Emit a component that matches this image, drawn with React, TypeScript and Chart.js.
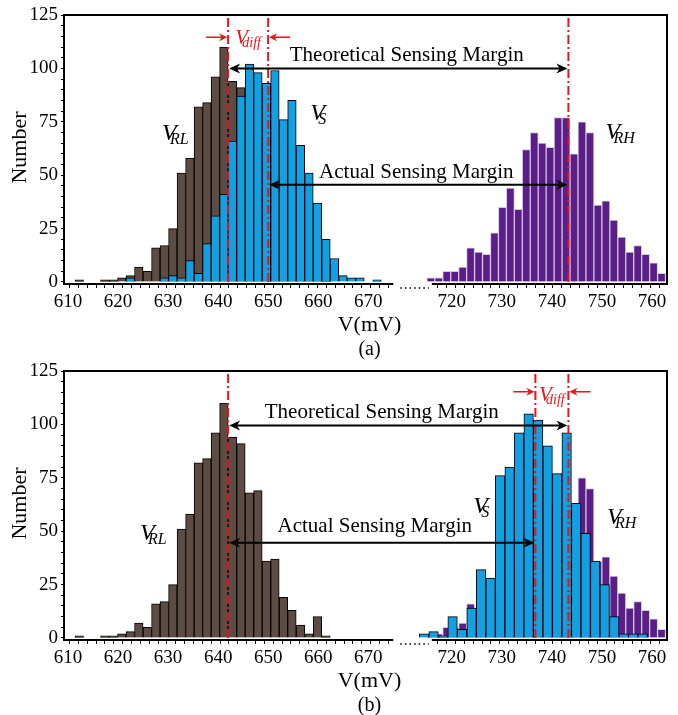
import React, { useEffect, useRef } from 'react';
import { Chart, registerables } from 'chart.js';
Chart.register(...registerables);

const FONT = '"Liberation Serif", "Times New Roman", serif';

// ---- axis break (real mV values above the gap are shifted left by SHIFT axis units)
const SHIFT = 33.3;
const X_MIN = 609.2;
const X_MAX = 763.0;
const BREAK_FROM = 675.0;
const BREAK_TO = 716.0;

const xTickLabels = [610, 620, 630, 640, 650, 660, 670, 720, 730, 740, 750, 760];
const yTickLabels = [0, 25, 50, 75, 100, 125];
const Y_MAX = 125;

// ---- V_RL histogram (same in both panels)
const vrlBins = [612.25, 613.95, 615.65, 617.35, 619.05, 620.75, 622.45, 624.15, 625.85, 627.55,
  629.25, 630.95, 632.65, 634.35, 636.05, 637.75, 639.45, 641.15, 642.85, 644.55,
  646.25, 647.95, 649.65, 651.35, 653.05, 654.75, 656.45, 658.15, 659.85, 661.55];
const vrlCounts = [1, 0, 0, 1, 1, 2, 3, 7, 5, 16, 17, 25, 51, 58, 82, 84, 96, 110, 94, 91,
  68, 69, 36, 37, 19, 13, 6, 2, 10, 1];

// ---- V_S histogram, panel (a)
const vsBinsA = [622.45, 624.15, 625.85, 627.55, 629.25, 630.95, 632.65, 634.35, 636.05, 637.75,
  639.45, 641.15, 642.85, 644.55, 646.25, 647.95, 649.65, 651.35, 653.05, 654.75,
  656.45, 658.15, 659.85, 661.55, 663.25, 664.95, 666.65, 668.35, 670.05, 671.75];
const vsCountsA = [2, 0, 0, 0, 2, 3, 2, 10, 4, 18, 31, 41, 66, 87, 102, 98, 93, 99, 76, 85,
  64, 51, 37, 20, 11, 3, 2, 2, 0, 1];

// ---- V_RH histogram (same in both panels)
const vrhBins = [715.80, 717.39, 718.98, 720.57, 722.16, 723.75, 725.34, 726.93, 728.52, 730.11,
  731.70, 733.29, 734.88, 736.47, 738.06, 739.65, 741.24, 742.83, 744.42, 746.01,
  747.60, 749.19, 750.78, 752.37, 753.96, 755.55, 757.14, 758.73, 760.32, 761.91];
const vrhCounts = [2, 2, 5, 5, 7, 16, 14, 13, 23, 35, 44, 34, 62, 70, 65, 63, 77, 77, 60, 75,
  70, 36, 38, 29, 21, 14, 17, 13, 9, 4];

// ---- V_S histogram, panel (b)
const vsBinsB = [714.45, 716.35, 718.25, 720.15, 722.05, 723.95, 725.85, 727.75, 729.65, 731.55,
  733.45, 735.35, 737.25, 739.15, 741.05, 742.95, 744.85, 746.75, 748.65, 750.55,
  752.45, 754.35, 756.25, 758.15];
const vsCountsB = [2, 3, 1, 10, 4, 14, 32, 28, 76, 80, 96, 105, 102, 90, 77, 96, 63, 49, 36, 25,
  10, 2, 2, 2];

// ---- reference voltages (mV)
const meanRL = 642.0;
const meanSA = 650.0;
const meanSB = 736.7;
const meanRH = 743.3;

const BROWN = '#5d4c43';
const BLUE = '#12a0e2';
const PURPLE = '#5a1d8a';
const RED = '#e8141c';

const toAxis = (v: number) => (v > 690 ? v - SHIFT : v);

function barSet(label: string, bins: number[], counts: number[], color: string, border: string, thick: number) {
  return {
    type: 'bar' as const,
    label,
    data: bins.map((b, i) => ({ x: toAxis(b), y: counts[i] })),
    backgroundColor: color,
    borderColor: border,
    borderWidth: 1,
    barThickness: thick,
    grouped: false,
  };
}

type SubLabel = { sub: string; v: number; c: number };
type Panel = {
  vsBins: number[];
  vsCounts: number[];
  redLines: number[];
  vdiff: { left: number; right: number; arrowC: number; textC: number };
  arrows: { from: number; to: number; c: number }[];
  texts: { t: string; u: number; c: number }[];
  labels: SubLabel[];
  caption: string;
  height: number;
};

const panelA: Panel = {
  vsBins: vsBinsA,
  vsCounts: vsCountsA,
  redLines: [meanRL, meanSA, meanRH],
  vdiff: { left: meanRL, right: meanSA, arrowC: 114.6, textC: 111.5 },
  arrows: [
    { from: meanRL, to: meanRH, c: 100 },
    { from: meanSA, to: meanRH, c: 45.5 },
  ],
  texts: [
    { t: 'Theoretical Sensing Margin', u: 677.7, c: 103.5 },
    { t: 'Actual Sensing Margin', u: 679.6, c: 48.8 },
  ],
  labels: [
    { sub: 'RL', v: 628.8, c: 66.5 },
    { sub: 'S', v: 658.4, c: 75.8 },
    { sub: 'RH', v: 750.7, c: 66.8 },
  ],
  caption: '(a)',
  height: 362,
};

const panelB: Panel = {
  vsBins: vsBinsB,
  vsCounts: vsCountsB,
  redLines: [meanRL, meanSB, meanRH],
  vdiff: { left: meanSB, right: meanRH, arrowC: 115.3, textC: 111 },
  arrows: [
    { from: meanRL, to: meanRH, c: 99.5 },
    { from: meanRL, to: meanSB, c: 44.6 },
  ],
  texts: [
    { t: 'Theoretical Sensing Margin', u: 672.7, c: 103 },
    { t: 'Actual Sensing Margin', u: 671.3, c: 49.8 },
  ],
  labels: [
    { sub: 'RL', v: 624.4, c: 46 },
    { sub: 'S', v: 724.3, c: 58.4 },
    { sub: 'RH', v: 751.0, c: 53.4 },
  ],
  caption: '(b)',
  height: 359,
};

function head(ctx: CanvasRenderingContext2D, x: number, y: number, dir: number, len: number, half: number) {
  ctx.beginPath();
  ctx.moveTo(x, y);
  ctx.lineTo(x - dir * len, y - half);
  ctx.lineTo(x - dir * len * 0.7, y);
  ctx.lineTo(x - dir * len, y + half);
  ctx.closePath();
  ctx.fill();
}

function subLabel(ctx: CanvasRenderingContext2D, x: number, y: number, main: string, sub: string,
  size: number, subSize: number, color: string) {
  ctx.fillStyle = color;
  ctx.textAlign = 'left';
  ctx.textBaseline = 'alphabetic';
  ctx.font = `italic ${size}px ${FONT}`;
  ctx.fillText(main, x, y);
  const w = ctx.measureText(main).width;
  ctx.font = `italic ${subSize}px ${FONT}`;
  ctx.fillText(sub, x + w - size * 0.28, y + size * 0.17);
}

function makePlugin(p: Panel) {
  return {
    id: 'annot',
    afterDatasetsDraw(chart: any) {
      const { ctx, chartArea: ca, scales } = chart;
      const x = scales.x;
      const y = scales.y;
      const px = (v: number) => x.getPixelForValue(toAxis(v));
      ctx.save();

      // frame
      ctx.strokeStyle = '#000';
      ctx.lineWidth = 2;
      ctx.setLineDash([]);
      ctx.beginPath();
      ctx.moveTo(ca.left, ca.bottom + 1);
      ctx.lineTo(ca.left, ca.top);
      ctx.lineTo(ca.right, ca.top);
      ctx.lineTo(ca.right, ca.bottom + 1);
      ctx.stroke();
      const b1 = px(BREAK_FROM);
      const b2 = px(BREAK_TO);
      ctx.beginPath();
      ctx.moveTo(ca.left - 1, ca.bottom);
      ctx.lineTo(b1, ca.bottom);
      ctx.moveTo(b2, ca.bottom);
      ctx.lineTo(ca.right + 1, ca.bottom);
      ctx.stroke();
      ctx.lineWidth = 1.6;
      ctx.setLineDash([1.6, 3]);
      ctx.beginPath();
      ctx.moveTo(b1 + 7, ca.bottom + 4);
      ctx.lineTo(b2 - 3, ca.bottom + 4);
      ctx.stroke();

      // red dash-dot reference lines
      ctx.strokeStyle = RED;
      ctx.lineWidth = 2;
      ctx.setLineDash([9, 3, 2, 3]);
      for (const v of p.redLines) {
        const xx = px(v);
        ctx.beginPath();
        ctx.moveTo(xx, y.getPixelForValue(0));
        ctx.lineTo(xx, ca.top + 2);
        ctx.stroke();
      }
      ctx.setLineDash([]);

      // V_diff
      const xl = px(p.vdiff.left);
      const xr = px(p.vdiff.right);
      const ya = y.getPixelForValue(p.vdiff.arrowC);
      ctx.fillStyle = RED;
      ctx.strokeStyle = RED;
      ctx.lineWidth = 1.5;
      ctx.beginPath();
      ctx.moveTo(xl - 22, ya);
      ctx.lineTo(xl - 4, ya);
      ctx.moveTo(xr + 22, ya);
      ctx.lineTo(xr + 4, ya);
      ctx.stroke();
      head(ctx, xl - 1, ya, 1, 8, 4);
      head(ctx, xr + 1, ya, -1, 8, 4);
      ctx.font = `italic 21px ${FONT}`;
      const wV = ctx.measureText('V').width;
      ctx.font = `italic 14px ${FONT}`;
      const wD = ctx.measureText('diff').width;
      const tw = wV - 21 * 0.28 + wD;
      subLabel(ctx, (xl + xr) / 2 - tw / 2, y.getPixelForValue(p.vdiff.textC), 'V', 'diff', 21, 14, RED);

      // black double arrows
      ctx.fillStyle = '#000';
      ctx.strokeStyle = '#000';
      ctx.lineWidth = 2;
      for (const a of p.arrows) {
        const x1 = px(a.from);
        const x2 = px(a.to);
        const yy = y.getPixelForValue(a.c);
        ctx.beginPath();
        ctx.moveTo(x1 + 6, yy);
        ctx.lineTo(x2 - 6, yy);
        ctx.stroke();
        head(ctx, x1 + 1, yy, -1, 11, 5);
        head(ctx, x2 - 1, yy, 1, 11, 5);
      }

      // texts
      ctx.font = `21px ${FONT}`;
      ctx.textAlign = 'center';
      ctx.textBaseline = 'alphabetic';
      for (const t of p.texts) {
        ctx.fillText(t.t, x.getPixelForValue(t.u), y.getPixelForValue(t.c));
      }

      // distribution labels
      for (const l of p.labels) {
        subLabel(ctx, px(l.v), y.getPixelForValue(l.c), 'V', l.sub, 24, 16, '#000');
      }

      // axis titles and caption
      ctx.fillStyle = '#000';
      ctx.textAlign = 'center';
      ctx.textBaseline = 'middle';
      ctx.font = `22px ${FONT}`;
      const cx = (ca.left + ca.right) / 2 + 4;
      ctx.fillText('V(mV)', cx, ca.bottom + 41);
      ctx.font = `20px ${FONT}`;
      ctx.fillText(p.caption, cx, ca.bottom + 66);
      ctx.save();
      ctx.translate(20, (ca.top + ca.bottom) / 2 - 2);
      ctx.rotate(-Math.PI / 2);
      ctx.font = `22px ${FONT}`;
      ctx.fillText('Number', 0, 0);
      ctx.restore();

      ctx.restore();
    },
  };
}

function buildChart(canvas: HTMLCanvasElement, p: Panel) {
  const datasets = [
    barSet('V_S', p.vsBins, p.vsCounts, BLUE, '#000', p === panelA ? 8.5 : 9.5),
    barSet('V_RH', vrhBins, vrhCounts, PURPLE, 'rgba(205,200,212,0.95)', 8),
    barSet('V_RL', vrlBins, vrlCounts, BROWN, '#000', 8.5),
  ];
  return new Chart(canvas, {
    type: 'bar',
    data: { datasets } as any,
    options: {
      responsive: false,
      animation: false,
      events: [],
      layout: { padding: { top: 15, right: 11, left: 0, bottom: 0 } },
      plugins: { legend: { display: false }, tooltip: { enabled: false } },
      scales: {
        x: {
          type: 'linear',
          offset: false,
          min: X_MIN,
          max: X_MAX - SHIFT,
          border: { display: false },
          grid: {
            offset: false,
            drawOnChartArea: false,
            drawTicks: true,
            tickLength: 4,
            tickWidth: 1,
            tickColor: (c: any) => (c.tick && c.tick.lbl ? 'rgba(0,0,0,0)' : '#000'),
          },
          ticks: {
            autoSkip: false,
            maxRotation: 0,
            minRotation: 0,
            padding: 3,
            color: '#000',
            font: { family: FONT, size: 19 },
            callback: (_v: any, i: number, ticks: any[]) => (ticks[i] && ticks[i].lbl) || '',
          },
          afterBuildTicks: (s: any) => {
            const t: any[] = xTickLabels.map((v) => ({ value: toAxis(v), lbl: String(v) }));
            for (let v = 610.3; v <= BREAK_FROM + 0.2; v += 1.77) t.push({ value: v });
            for (let v = 717.2; v <= X_MAX; v += 1.77) t.push({ value: v - SHIFT });
            t.sort((a, b) => a.value - b.value);
            s.ticks = t;
          },
          afterFit: (s: any) => {
            s.height = p.height - 284;
          },
        } as any,
        y: {
          type: 'linear',
          min: -0.94,
          max: Y_MAX,
          border: { display: false },
          grid: { drawOnChartArea: false, drawTicks: true, tickLength: 3, tickColor: '#000', tickWidth: 1 },
          ticks: {
            autoSkip: false,
            padding: 3,
            color: '#000',
            font: { family: FONT, size: 19 },
            callback: (v: any) => (yTickLabels.includes(v) ? String(v) : ''),
          },
          afterBuildTicks: (s: any) => {
            const t: any[] = [];
            for (let v = 0; v <= Y_MAX; v += 5) t.push({ value: v });
            s.ticks = t;
          },
          afterFit: (s: any) => {
            s.width = 64;
          },
        } as any,
      },
    },
    plugins: [makePlugin(p)],
  } as any);
}

export default function App() {
  const refA = useRef<HTMLCanvasElement>(null);
  const refB = useRef<HTMLCanvasElement>(null);
  useEffect(() => {
    const a = buildChart(refA.current!, panelA);
    const b = buildChart(refB.current!, panelB);
    return () => {
      a.destroy();
      b.destroy();
    };
  }, []);
  return (
    <div style={{ position: 'absolute', left: 0, top: 0, width: 678, height: 715, background: '#fff' }}>
      <canvas ref={refA} width={678} height={362} style={{ position: 'absolute', left: 0, top: 0 }} />
      <canvas ref={refB} width={678} height={359} style={{ position: 'absolute', left: 0, top: 356 }} />
    </div>
  );
}
